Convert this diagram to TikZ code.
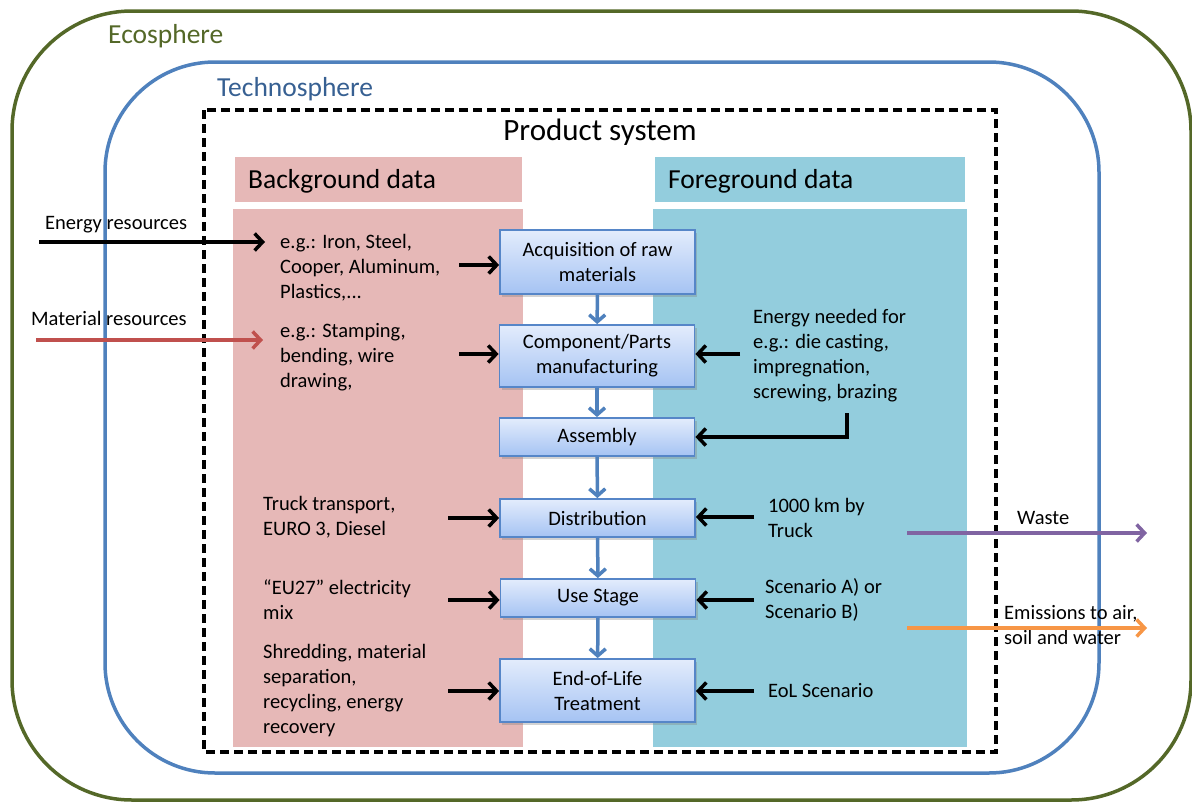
\documentclass[tikz,border=0pt]{standalone}
\usepackage{fontspec}
\setmainfont{Carlito}
\usetikzlibrary{arrows.meta,shadows,calc}
\definecolor{eco}{RGB}{84,104,40}
\definecolor{techline}{RGB}{79,129,189}
\definecolor{techtext}{RGB}{55,96,146}
\definecolor{bgpink}{RGB}{230,184,183}
\definecolor{fgblue}{RGB}{147,205,221}
\definecolor{boxtop}{RGB}{227,236,252}
\definecolor{boxbot}{RGB}{165,195,243}
\definecolor{boxline}{RGB}{86,134,200}
\definecolor{flowblue}{RGB}{79,129,189}
\definecolor{matred}{RGB}{192,80,77}
\definecolor{wastepurple}{RGB}{128,100,162}
\definecolor{emorange}{RGB}{247,150,70}
\tikzset{
  body/.style={font=\fontsize{20.5}{25}\selectfont, inner sep=0pt, align=left, anchor=west},
  stagebox/.style={draw=boxline, line width=1.8pt, top color=boxtop, bottom color=boxbot,
    minimum width=195pt, align=center, inner sep=0pt,
    font=\fontsize{20.5}{25}\selectfont,
    drop shadow={opacity=0.35, shadow xshift=2pt, shadow yshift=-2.5pt}},
  inarrow/.style={line width=3.5pt, -{Straight Barb[length=8pt,width=17pt,line width=3.5pt]}},
  flow/.style={draw=flowblue, line width=3.5pt, -{Straight Barb[length=7pt,width=16pt,line width=3.5pt]}},
  headtxt/.style={font=\fontsize{27.5}{32}\selectfont, inner sep=0pt, anchor=west},
}
\begin{document}
\begin{tikzpicture}[x=1pt,y=-1pt]
\useasboundingbox (0,0) rectangle (1192,803);
% spheres
\draw[eco, line width=3.5pt, rounded corners=120pt] (12,11) rectangle (1191,800);
\node[headtxt, text=eco] (ecolab) at (108,36) {Ecosphere};
\draw[techline, line width=3.5pt, rounded corners=110pt] (105,62) rectangle (1099,773);
\node[headtxt, text=techtext] (techlab) at (217,89) {Technosphere};
\draw[black, line width=3.2pt, dash pattern=on 9pt off 5pt] (204,110) rectangle (996,752);
\node[font=\fontsize{31}{36}\selectfont, inner sep=0pt] (pslab) at (600,132) {Product system};
% columns
\fill[bgpink] (235,157) rectangle (522,202);
\fill[bgpink] (233,209) rectangle (523,747);
\fill[fgblue] (655,157) rectangle (965,202);
\fill[fgblue] (653,209) rectangle (967,747);
\node[headtxt] (bglab) at (248,181) {Background data};
\node[headtxt] (fglab) at (668,181) {Foreground data};
% stage boxes
\node[stagebox, minimum height=64pt] (acq) at (597.5,262) {Acquisition of raw\\materials};
\node[stagebox, minimum height=62pt] (comp) at (597,356) {Component/Parts\\manufacturing};
\node[stagebox, minimum height=38pt] (asm) at (597,437) {Assembly};
\node[stagebox, minimum height=38pt] (dist) at (597.5,518) {Distribution};
\node[stagebox, minimum height=38pt] (use) at (598,598) {Use Stage};
\node[stagebox, minimum height=63pt] (eol) at (597.5,690.5) {End-of-Life\\Treatment};
% flow arrows
\draw[flow] (acq) -- (comp);
\draw[flow] (comp) -- (asm);
\draw[flow] (asm) -- (dist);
\draw[flow] (dist) -- (use);
\draw[flow] (use) -- (eol);
% left texts
\node[body] (t1) at (280,268) {e.g.: Iron, Steel,\\Cooper, Aluminum,\\Plastics,...};
\node[body] (t2) at (280,357) {e.g.: Stamping,\\bending, wire\\drawing,};
\node[body] (t3) at (263,517.5) {Truck transport,\\EURO 3, Diesel};
\node[body] (t4) at (263,599.5) {“EU27” electricity\\mix};
\node[body] (t5) at (263,691) {Shredding, material\\separation,\\recycling, energy\\recovery};
% right texts
\node[body] (r1) at (753,355.5) {Energy needed for\\e.g.: die casting,\\impregnation,\\screwing, brazing};
\node[body] (r2) at (768,517.5) {1000 km by\\Truck};
\node[body] (r3) at (765,599.5) {Scenario A) or\\Scenario B)};
\node[body] (r4) at (768,691) {EoL Scenario};
% outer labels
\node[body] (enlab) at (45,225) {Energy resources};
\node[body] (matlab) at (31,318) {Material resources};
\node[body] (wlab) at (1017,518) {Waste};
\node[body] (emlab) at (1004,625) {Emissions to air,\\soil and water};
% coordinates for free ends
\coordinate (enS) at (39,242);
\coordinate (enE) at (265,242);
\coordinate (maS) at (36,340);
\coordinate (maE) at (263,340);
\coordinate (l1) at (459,265);
\coordinate (l2) at (459,354);
\coordinate (l3) at (448,518);
\coordinate (l4) at (448,600);
\coordinate (l5) at (448,691);
\coordinate (rr1) at (740,354);
\coordinate (rr0) at (847,413);
\coordinate (rr2) at (754,517);
\coordinate (rr3) at (754,600);
\coordinate (rr4) at (754,691);
\coordinate (wS) at (907,533);
\coordinate (wE) at (1147,533);
\coordinate (eS) at (907,628);
\coordinate (eE) at (1147,628);
% input arrows
\draw[inarrow] (enS) -- (enE);
\draw[inarrow, matred] (maS) -- (maE);
\draw[inarrow] (l1) -- (l1 -| acq.west);
\draw[inarrow] (l2) -- (l2 -| comp.west);
\draw[inarrow] (l3) -- (l3 -| dist.west);
\draw[inarrow] (l4) -- (l4 -| use.west);
\draw[inarrow] (l5) -- (l5 -| eol.west);
\draw[inarrow] (rr1) -- (rr1 -| comp.east);
\draw[inarrow] (rr0) |- (asm.east);
\draw[inarrow] (rr2) -- (rr2 -| dist.east);
\draw[inarrow] (rr3) -- (rr3 -| use.east);
\draw[inarrow] (rr4) -- (rr4 -| eol.east);
\draw[inarrow, wastepurple] (wS) -- (wE);
\draw[inarrow, emorange] (eS) -- (eE);
\end{tikzpicture}
\end{document}
